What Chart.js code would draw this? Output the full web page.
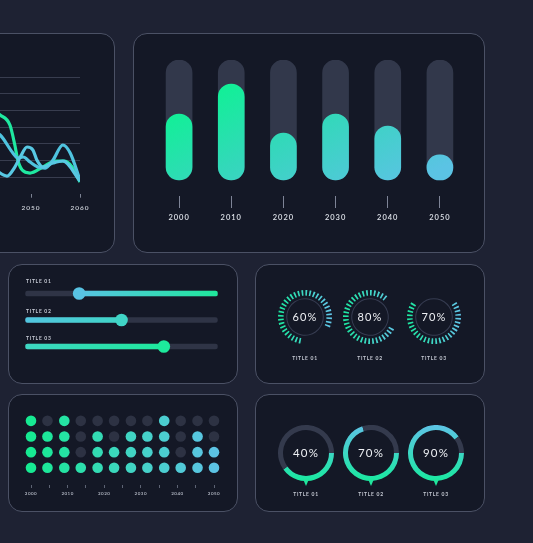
<!DOCTYPE html>
<html>
<head>
<meta charset="utf-8">
<title>Dashboard</title>
<script src="https://cdn.jsdelivr.net/npm/chart.js@4.4.1/dist/chart.umd.min.js"></script>
<style>
  html, body { margin: 0; padding: 0; }
  body { width: 533px; height: 543px; overflow: hidden; position: relative; background: #1e2233; font-family: Lato, "Open Sans", sans-serif; }
  .panel { position: absolute; box-sizing: border-box; background: #141826; border: 1px solid #4b5165; border-radius: 14px; }
  .box { position: absolute; }
  .tiny { position: absolute; color: #c6cad4; font-size: 5px; font-weight: 700; letter-spacing: 0.7px; line-height: 5px; white-space: nowrap; }
  .tiny.c { transform: translateX(-50%); }
  .mid { position: absolute; color: #eef0f4; font-size: 11.5px; letter-spacing: 1.2px; line-height: 12px; white-space: nowrap; transform: translate(-50%, -50%); }
  .pin { position: absolute; width: 0; height: 0; border-left: 3.5px solid transparent; border-right: 3.5px solid transparent; border-top: 7px solid #21e69d; }
</style>
</head>
<body>
<div class="panel" style="left:-20px;top:33px;width:135px;height:220px"></div>
<div class="panel" style="left:133px;top:33px;width:352px;height:220px"></div>
<div class="panel" style="left:8px;top:264px;width:230px;height:120px"></div>
<div class="panel" style="left:255px;top:264px;width:230px;height:120px"></div>
<div class="panel" style="left:8px;top:394px;width:230px;height:118px"></div>
<div class="panel" style="left:255px;top:394px;width:230px;height:118px"></div>

<div class="box" style="left:-214px;top:70px;width:304px;height:150px"><canvas id="lineChart"></canvas></div>
<div class="box" style="left:153px;top:60px;width:313px;height:166px"><canvas id="barChart"></canvas></div>
<div class="box" style="left:19px;top:274px;width:205px;height:92px"><canvas id="sliderChart"></canvas></div>
<div class="box" style="left:20px;top:405px;width:205px;height:100px"><canvas id="dotChart"></canvas></div>
<div id="overlay"></div>

<script>
// top-left lines (only the right end of the axis is inside the frame)
const lineGreenYears = [2040, 2043.7, 2045.7, 2046.7, 2047.3, 2048.2, 2049.8, 2052.4, 2054.9, 2056.9, 2058.4, 2060];
const lineGreenValues = [44, 37.2, 31.2, 19.2, 10.2, 4.2, 2.4, 6, 9.6, 9.6, 6, -3];
const lineBlueYears = [2040, 2043.7, 2046.3, 2047.3, 2048.4, 2049.8, 2051.4, 2052.9, 2054.5, 2056.5, 2058, 2060];
const lineBlueValues = [30, 25.2, 14.4, 11.4, 12, 9, 6, 5.4, 10.2, 19.2, 14.4, -1.8];
const lineSkyYears = [2040, 2043.7, 2045.1, 2046.7, 2047.8, 2049.2, 2050.4, 2051.2, 2052.4, 2054.5, 2056.5, 2060];
const lineSkyValues = [12, 2.4, 0.6, 6, 12, 18, 16.2, 10.2, 6, 8.4, 9.6, -2.4];

// pill bars
const barYears = ['2000', '2010', '2020', '2030', '2040', '2050'];
const barValues = [55, 80, 39, 55, 45, 21];
const barMax = 100;

// sliders
const sliderTitles = ['TITLE 01', 'TITLE 02', 'TITLE 03'];
const sliderValues = [28, 50, 72];

// tick gauges
const gaugeTitles = ['TITLE 01', 'TITLE 02', 'TITLE 03'];
const gaugeLabels = [60, 80, 70];
const gaugeSpans = [80, 81, 70];

// dot matrix
const dotYears = [2000, 2004.5, 2009.1, 2013.6, 2018.2, 2022.7, 2027.3, 2031.8, 2036.4, 2040.9, 2045.5, 2050];
const dotCounts = [4, 3, 4, 1, 3, 2, 3, 3, 4, 1, 3, 2];
const dotRows = 4;

// donuts
const donutTitles = ['TITLE 01', 'TITLE 02', 'TITLE 03'];
const donutValues = [40, 70, 90];

// styles / placement
const sliderFillSide = ['right', 'left', 'left'];
const sliderColors = [['#58c3e3', '#1fe89c'], ['#52c5e0', '#3fd5c6'], ['#3ed6c3', '#1ee99c']];
const sliderThumbColors = ['#58c3e3', '#40d4c6', '#1de99c'];
const gaugeCenters = [305, 370, 434];
const gaugeStarts = [190, 117, 56];
const donutCenters = [306, 371, 436];

Chart.defaults.animation = false;
Chart.defaults.responsive = true;
Chart.defaults.maintainAspectRatio = false;
Chart.defaults.events = [];
Chart.defaults.font.family = 'Lato, "Open Sans", sans-serif';
Chart.defaults.plugins.legend.display = false;
Chart.defaults.plugins.tooltip.enabled = false;

// canvas letter spacing for the axis labels
Chart.register({
  id: 'letterSpacing',
  beforeDraw(chart, args, opts) { chart.ctx.letterSpacing = opts.value || '0px'; }
});

const pairs = (xs, ys) => xs.map((x, i) => ({ x, y: ys[i] }));
const clear = 'rgba(0,0,0,0)';

// line chart
new Chart(document.getElementById('lineChart'), {
  type: 'line',
  data: {
    datasets: [
      { data: pairs(lineSkyYears, lineSkyValues), borderColor: '#58c8e3' },
      { data: pairs(lineBlueYears, lineBlueValues), borderColor: '#4fc3df' },
      { data: pairs(lineGreenYears, lineGreenValues), borderColor: '#1fe8a0' }
    ]
  },
  options: {
    layout: { padding: { top: 7, right: 10 } },
    elements: { point: { radius: 0 }, line: { borderWidth: 3.2, cubicInterpolationMode: 'monotone' } },
    scales: {
      x: {
        type: 'linear', min: 2000, max: 2060,
        border: { display: false },
        grid: { drawOnChartArea: false, tickLength: 4, color: '#7c8293' },
        ticks: { stepSize: 10, padding: 6, color: '#d3d7df', font: { size: 6.5, weight: '600' }, callback: v => String(v) },
        afterFit: s => { s.height = 26.3; s.paddingLeft = 0; s.paddingRight = 0; }
      },
      y: {
        min: -10, max: 60,
        border: { display: false },
        ticks: { display: false, stepSize: 10 },
        grid: { drawTicks: false, color: c => (c.tick && c.tick.value >= 0) ? '#383d4f' : clear },
        afterFit: s => { s.width = 0; }
      }
    },
    plugins: { letterSpacing: { value: '1px' } }
  }
});

// bar chart
function barGradient(context) {
  const area = context.chart.chartArea;
  if (!area) return '#2ddcb5';
  const g = context.chart.ctx.createLinearGradient(area.left + 47, area.top + 10, area.left + 137, area.top + 186);
  g.addColorStop(0, '#06f88b');
  g.addColorStop(0.5, '#33d8ba');
  g.addColorStop(1, '#5bc3e4');
  return g;
}

new Chart(document.getElementById('barChart'), {
  type: 'bar',
  data: {
    labels: barYears,
    datasets: [
      { data: barValues.map(v => [0, v]), backgroundColor: barGradient, order: 0 },
      { data: barYears.map(() => [0, barMax]), backgroundColor: '#32384b', order: 1 }
    ]
  },
  options: {
    datasets: { bar: { grouped: false, barThickness: 26, borderRadius: 13, borderSkipped: false, borderWidth: 0 } },
    scales: {
      x: {
        border: { display: false },
        grid: { offset: false, drawOnChartArea: false, tickLength: 12, color: '#7e8497' },
        ticks: { padding: 5, color: '#dde1e8', font: { size: 7.5, weight: '600' } },
        afterFit: s => { s.height = 30; }
      },
      y: { display: false, min: -13.33, max: barMax }
    },
    plugins: { letterSpacing: { value: '1px' } }
  }
});

// sliders
const sliderFill = sliderValues.map((v, i) => sliderFillSide[i] === 'right' ? [v, 100] : [0, v]);

function sliderGradient(context) {
  const chart = context.chart;
  const i = context.dataIndex;
  if (!chart.chartArea || i === undefined) return '#3ed6c3';
  const xs = chart.scales.x;
  const [a, b] = sliderFill[i];
  const g = chart.ctx.createLinearGradient(xs.getPixelForValue(a), 0, xs.getPixelForValue(b), 0);
  g.addColorStop(0, sliderColors[i][0]);
  g.addColorStop(1, sliderColors[i][1]);
  return g;
}

new Chart(document.getElementById('sliderChart'), {
  type: 'bar',
  data: {
    labels: sliderTitles,
    datasets: [
      { type: 'line', indexAxis: 'y', data: sliderValues, showLine: false, pointRadius: 6.3,
        pointBackgroundColor: sliderThumbColors, pointBorderWidth: 0, order: 0, clip: false },
      { data: sliderFill, backgroundColor: sliderGradient, order: 1 },
      { data: sliderTitles.map(() => [0, 100]), backgroundColor: '#2f3446', order: 2 }
    ]
  },
  options: {
    indexAxis: 'y',
    layout: { padding: 6 },
    datasets: { bar: { grouped: false, barThickness: 5, borderRadius: 3, borderSkipped: false, borderWidth: 0 } },
    scales: { x: { display: false, min: 0, max: 100 }, y: { display: false } }
  }
});

// dot matrix
const dotOn = [];
const dotOff = [];
dotYears.forEach((x, i) => {
  for (let r = 1; r <= dotRows; r++) (r <= dotCounts[i] ? dotOn : dotOff).push({ x, y: r });
});

function dotGradient(context) {
  const area = context.chart.chartArea;
  if (!area) return '#3ed6c0';
  const g = context.chart.ctx.createLinearGradient(area.left, 0, area.right, 0);
  g.addColorStop(0, '#16ea92');
  g.addColorStop(0.5, '#3ed6c0');
  g.addColorStop(1, '#5cc3e4');
  return g;
}

new Chart(document.getElementById('dotChart'), {
  type: 'scatter',
  data: {
    datasets: [
      { data: dotOn, pointBackgroundColor: dotGradient, pointRadius: 5.3, pointBorderWidth: 0, clip: false },
      { data: dotOff, pointBackgroundColor: '#2d3243', pointRadius: 5.3, pointBorderWidth: 0, clip: false }
    ]
  },
  options: {
    layout: { padding: { left: 11, right: 11, top: 8 } },
    scales: {
      x: {
        type: 'linear', min: 2000, max: 2050,
        border: { display: false },
        grid: { drawOnChartArea: false, tickLength: 3, color: '#5d6374' },
        ticks: { stepSize: 5, autoSkip: false, padding: 2.5, color: '#b9beca', font: { size: 4.5, weight: '600' },
                 callback: v => v % 10 === 0 ? String(v) : '' },
        afterFit: s => { s.height = 20; s.paddingLeft = 0; s.paddingRight = 0; }
      },
      y: { display: false, min: -0.1, max: 4.5 }
    },
    plugins: { letterSpacing: { value: '0.5px' } }
  }
});

// overlay texts, gauges and donuts
const overlay = document.getElementById('overlay');
function add(html) { overlay.insertAdjacentHTML('beforeend', html); }

sliderTitles.forEach((t, i) => {
  add(`<div class="tiny" style="left:26px;top:${[278.5, 308.5, 335.5][i]}px">${t}</div>`);
});

const tickCount = 40;
gaugeLabels.forEach((label, k) => {
  const cx = gaugeCenters[k];
  add(`<div class="box" style="left:${cx - 27}px;top:${317 - 27}px;width:54px;height:54px"><canvas id="gauge${k}"></canvas></div>`);
  add(`<div class="mid" style="left:${cx}px;top:317px;font-size:11px">${label}%</div>`);
  add(`<div class="tiny c" style="left:${cx}px;top:356px">${gaugeTitles[k]}</div>`);

  const shown = Math.round(gaugeSpans[k] * tickCount / 100);
  const tickData = [];
  for (let i = 0; i < tickCount; i++) tickData.push(2.2, 2.8);

  new Chart(document.getElementById('gauge' + k), {
    type: 'doughnut',
    data: {
      datasets: [
        {
          data: tickData, weight: 5.6,
          backgroundColor: c => {
            if (c.dataIndex === undefined) return clear;
            if (c.dataIndex % 2 === 1 || Math.floor(c.dataIndex / 2) >= shown) return clear;
            const g = c.chart.ctx.createLinearGradient(0, 0, c.chart.width, 0);
            g.addColorStop(0, '#1ce8a0');
            g.addColorStop(1, '#62c6ea');
            return g;
          }
        },
        { data: [1], weight: 2.6, backgroundColor: clear },
        { data: [1], weight: 1, backgroundColor: '#363c51' }
      ]
    },
    options: {
      cutout: 17.8,
      rotation: gaugeStarts[k],
      elements: { arc: { borderWidth: 0, hoverOffset: 0, offset: 0 } }
    }
  });
});

donutValues.forEach((v, k) => {
  const cx = donutCenters[k];
  add(`<div class="box" style="left:${cx - 28}px;top:425px;width:56px;height:56px"><canvas id="donut${k}"></canvas></div>`);
  add(`<div class="mid" style="left:${cx}px;top:453px">${v}%</div>`);
  add(`<div class="pin" style="left:${cx - 3.5}px;top:479px"></div>`);
  add(`<div class="tiny c" style="left:${cx}px;top:492px">${donutTitles[k]}</div>`);

  new Chart(document.getElementById('donut' + k), {
    type: 'doughnut',
    data: {
      datasets: [{
        data: [v, 100 - v],
        backgroundColor: c => {
          if (c.dataIndex === 1) return '#343a4d';
          const g = c.chart.ctx.createLinearGradient(0, c.chart.height, 0, 0);
          g.addColorStop(0, '#1ae9a0');
          g.addColorStop(1, '#5ec4e6');
          return g;
        }
      }]
    },
    options: {
      cutout: 23,
      rotation: 90,
      elements: { arc: { borderWidth: 0, hoverOffset: 0, offset: 0 } }
    }
  });
});
</script>
</body>
</html>
